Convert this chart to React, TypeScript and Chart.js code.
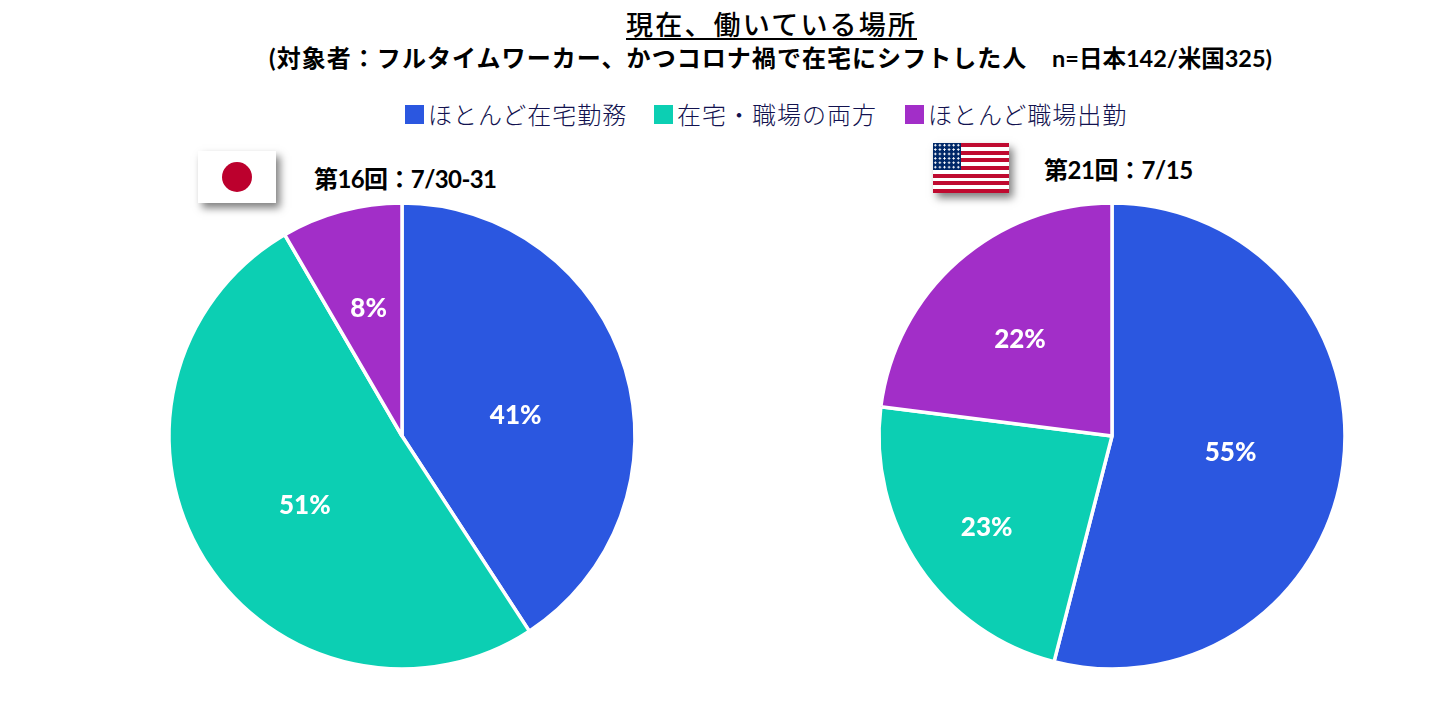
import React, { useEffect, useRef } from "react";
import { Chart, registerables } from "chart.js";

Chart.register(...registerables);

const categories = ["ほとんど在宅勤務", "在宅・職場の両方", "ほとんど職場出勤"];
const colors = ["#2B57E0", "#0CCFB3", "#A22EC8"];
const japanValues = [40.8, 50.8, 8.4];
const japanLabels = ["41%", "51%", "8%"];
const usValues = [54, 23, 23];
const usLabels = ["55%", "23%", "22%"];
const japanNudge = [[2, 13], [2, 8], [-3, -15]];
const usNudge = [[3, 2], [-29, 26], [-15, -9]];

const FONT = '"Lato", "Noto Sans CJK JP", sans-serif';

const sliceLabels = {
  id: "sliceLabels",
  afterDatasetsDraw(chart: any, _a: any, opts: any) {
    const ctx = chart.ctx;
    ctx.save();
    ctx.font = `900 26px ${FONT}`;
    ctx.fillStyle = "#fff";
    ctx.textAlign = "center";
    ctx.textBaseline = "middle";
    chart.getDatasetMeta(0).data.forEach((arc: any, i: number) => {
      const p = arc.tooltipPosition();
      ctx.fillText(opts.texts[i], p.x + opts.nudge[i][0], p.y + opts.nudge[i][1]);
    });
    ctx.restore();
  },
};

function Pie({ cx, values, texts, nudge }: { cx: number; values: number[]; texts: string[]; nudge: number[][] }) {
  const ref = useRef<HTMLCanvasElement>(null);
  useEffect(() => {
    const chart = new Chart(ref.current!, {
      type: "pie",
      data: {
        labels: categories,
        datasets: [{ data: values, backgroundColor: colors, borderColor: "#fff", borderWidth: 3.5, borderAlign: "center", radius: 233 } as any],
      },
      options: {
        animation: false,
        responsive: false,
        devicePixelRatio: 1,
        layout: { padding: 0 },
        plugins: { legend: { display: false }, tooltip: { enabled: false }, sliceLabels: { texts, nudge } } as any,
      },
      plugins: [sliceLabels],
    });
    return () => chart.destroy();
  }, []);
  return <canvas ref={ref} width={480} height={480} style={{ position: "absolute", left: cx - 240, top: 196, width: 480, height: 480 }} />;
}

const at = (left: number, top: number, extra: React.CSSProperties = {}): React.CSSProperties => ({
  position: "absolute", left, top, whiteSpace: "pre", fontFamily: FONT, color: "#000", lineHeight: 1, ...extra,
});

function LegendItem({ x, swatchX, color, text }: { x: number; swatchX: number; color: string; text: string }) {
  return (
    <>
      <div style={{ position: "absolute", left: swatchX, top: 105, width: 19, height: 19, background: color }} />
      <div style={at(x, 103, { fontSize: 24, fontWeight: 300, color: "#12124F", letterSpacing: 1 })}>{text}</div>
    </>
  );
}

export default function App() {
  return (
    <div style={{ position: "absolute", left: 0, top: 0, width: 1454, height: 728, overflow: "hidden", background: "#fff" }}>
      <div style={at(626, 11, { fontSize: 27, fontWeight: 500, letterSpacing: 2.2, borderBottom: "2px solid #000", paddingBottom: 0, lineHeight: "27px" })}>現在、働いている場所</div>
      <div style={at(269, 46, { fontSize: 24, fontWeight: 700, letterSpacing: 1.05 })}>(対象者：フルタイムワーカー、かつコロナ禍で在宅にシフトした人</div>
      <div style={at(1052, 47, { fontSize: 23.5, fontWeight: 700 })}>n=日本142/米国325)</div>

      <LegendItem swatchX={405} x={428} color={colors[0]} text={categories[0]} />
      <LegendItem swatchX={654} x={677} color={colors[1]} text={categories[1]} />
      <LegendItem swatchX={905} x={928} color={colors[2]} text={categories[2]} />

      <div style={{ position: "absolute", left: 198, top: 151, width: 78, height: 52, background: "#fff", boxShadow: "4px 5px 8px rgba(0,0,0,.5)" }}>
        <div style={{ position: "absolute", left: 24, top: 11, width: 30, height: 30, borderRadius: "50%", background: "#BC002D" }} />
      </div>
      <div style={at(314, 167, { fontSize: 24, fontWeight: 700, letterSpacing: -0.6 })}>第16回：7/30-31</div>

      <div style={{ position: "absolute", left: 933, top: 143, width: 76, height: 50, boxShadow: "4px 5px 8px rgba(0,0,0,.5)",
        background: "repeating-linear-gradient(180deg,#BF0A30 0,#BF0A30 3.85px,#fff 3.85px,#fff 7.7px)" }}>
        <div style={{ position: "absolute", left: 0, top: 0, width: 28, height: 27, background: "radial-gradient(circle,#fff 0.9px,transparent 1.2px) 0 0/4.6px 4.4px,#002868" }} />
      </div>
      <div style={at(1044, 158, { fontSize: 24, fontWeight: 700, letterSpacing: -0.45 })}>第21回：7/15</div>

      <Pie cx={402} values={japanValues} texts={japanLabels} nudge={japanNudge} />
      <Pie cx={1112} values={usValues} texts={usLabels} nudge={usNudge} />
    </div>
  );
}
